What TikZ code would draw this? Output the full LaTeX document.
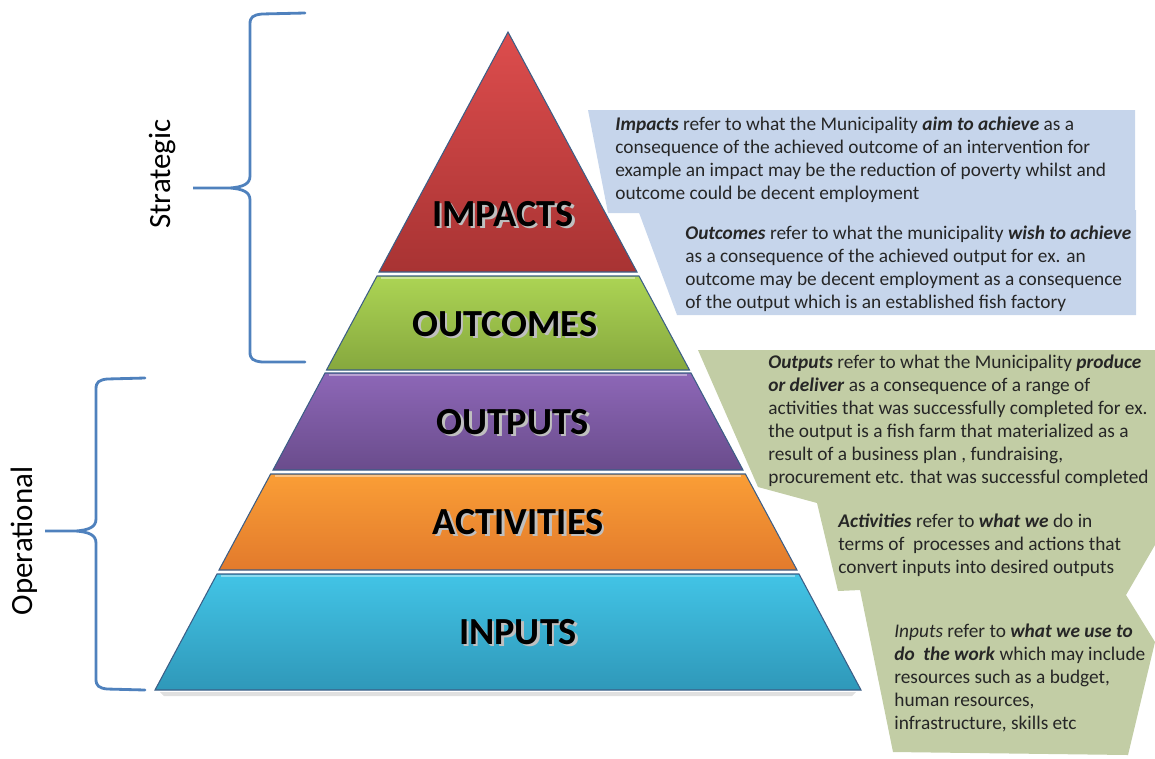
\documentclass[tikz,border=0pt]{standalone}
\usepackage{fontspec}
\setmainfont{Carlito}

\definecolor{bracketblue}{HTML}{4F81BD}
\definecolor{boxblue}{HTML}{C6D5EB}
\definecolor{boxgreen}{HTML}{C2CDA5}
\definecolor{edgeblue}{HTML}{3C5E86}
\definecolor{notetext}{HTML}{262626}

\newcommand{\keyw}[1]{\textbf{\textit{#1}}}

\tikzset{
  layer/.style={draw=edgeblue, line width=0.6pt},
  bevel/.style={draw=white, opacity=0.4, line width=1.2pt},
  lvl/.style={font=\fontsize{21.8}{25}\selectfont\bfseries, text=black, inner sep=0pt},
  lvlshadow/.style={lvl, text=black!25},
  note/.style={font=\fontsize{11}{13.09}\selectfont, text=notetext, align=left,
    anchor=north west, inner sep=0pt},
  bracket/.style={draw=bracketblue, line width=1.6pt, line cap=round},
  side/.style={font=\fontsize{17.6}{20}\selectfont, rotate=90, inner sep=0pt}
}

\begin{document}
\begin{tikzpicture}[x=0.02cm,y=-0.02cm]

\useasboundingbox (0,0) rectangle (1155,758);

\fill[boxblue] (588,110) -- (1135,110) -- (1135,213) -- (608,213) -- cycle;
\fill[boxblue] (638,210) -- (1136,210) -- (1136,315) -- (677,315) -- cycle;

\fill[boxgreen] (698,350) -- (1155,350) -- (1155,545) -- (1126,595) -- (1155,642)
  -- (1128,755) -- (893,752) -- (860,590) -- (838,591) -- (817,503) -- (758,487) -- cycle;

\fill[black!12] (160,692) -- (856,692) -- (852,696) -- (164,696) -- cycle;

\shade[layer, top color={rgb,255:red,221;green,77;blue,77}, bottom color={rgb,255:red,168;green,51;blue,51}]
  (508,32) -- (637,272) -- (379,272) -- cycle;
\shade[layer, top color={rgb,255:red,172;green,212;blue,84}, bottom color={rgb,255:red,134;green,168;blue,62}]
  (377,276) -- (639,276) -- (689.5,370) -- (326.5,370) -- cycle;
\shade[layer, top color={rgb,255:red,141;green,103;blue,183}, bottom color={rgb,255:red,106;green,76;blue,140}]
  (325,373) -- (691,373) -- (743,470) -- (273,470) -- cycle;
\shade[layer, top color={rgb,255:red,250;green,158;blue,54}, bottom color={rgb,255:red,226;green,122;blue,44}]
  (270.6,474) -- (745.4,474) -- (797,570) -- (219,570) -- cycle;
\shade[layer, top color={rgb,255:red,66;green,196;blue,230}, bottom color={rgb,255:red,47;green,152;blue,185}]
  (217,574) -- (799,574) -- (861,690) -- (155,690) -- cycle;

\draw[bevel] (381,278) -- (635,278);
\draw[bevel] (329,375) -- (687,375);
\draw[bevel] (275,476) -- (741,476);
\draw[bevel] (221,576) -- (795,576);

\node[lvlshadow] at (505.5,216.5) {IMPACTS};
\node[lvl] (impacts) at (503,214) {IMPACTS};
\node[lvlshadow] at (507.5,326.5) {OUTCOMES};
\node[lvl] (outcomes) at (505,324) {OUTCOMES};
\node[lvlshadow] at (515.5,424.5) {OUTPUTS};
\node[lvl] (outputs) at (513,422) {OUTPUTS};
\node[lvlshadow] at (520.5,524.5) {ACTIVITIES};
\node[lvl] (activities) at (518,522) {ACTIVITIES};
\node[lvlshadow] at (520.5,634.5) {INPUTS};
\node[lvl] (inputs) at (518,632) {INPUTS};

\node[note] (impactnote) at (615,117) {\keyw{Impacts} refer to what the Municipality \keyw{aim to achieve} as a\\
consequence of the achieved outcome of an intervention for\\
example an impact may be the reduction of poverty whilst and\\
outcome could be decent employment};

\node[note] (outcomenote) at (685,226) {\keyw{Outcomes} refer to what the municipality \keyw{wish to achieve}\\
as a consequence of the achieved output for ex. an\\
outcome may be decent employment as a consequence\\
of the output which is an established fish factory};

\node[note] (outputnote) at (768,355) {\keyw{Outputs} refer to what the Municipality \keyw{produce}\\
\keyw{or deliver} as a consequence of a range of\\
activities that was successfully completed for ex.\\
the output is a fish farm that materialized as a\\
result of a business plan , fundraising,\\
procurement etc. that was successful completed};

\node[note] (activitynote) at (838,514) {\keyw{Activities} refer to \keyw{what we} do in\\
terms of \ processes and actions that\\
convert inputs into desired outputs};

\node[note] (inputnote) at (894,624) {\textit{Inputs} refer to \keyw{what we use to}\\
\keyw{do \ the work} which may include\\
resources such as a budget,\\
human resources,\\
infrastructure, skills etc};

\draw[bracket] (305,13) -- (262,14) .. controls (253,15) and (250,17) .. (250,24) -- (250,176)
  .. controls (250,184) and (243,187) .. (230,188) -- (193,188) -- (230,188)
  .. controls (243,189) and (250,192) .. (250,200) -- (250,352)
  .. controls (250,359) and (253,361) .. (262,362) -- (305,362);
\draw[bracket] (145,378) -- (107,379) .. controls (99,380) and (96,382) .. (96,389) -- (96,519)
  .. controls (96,527) and (89,530) .. (76,531) -- (45,531) -- (76,531)
  .. controls (89,532) and (96,535) .. (96,543) -- (96,679)
  .. controls (96,686) and (99,688) .. (107,689) -- (145,690);

\node[side] (strategic) at (163,174) {Strategic};
\node[side] (operational) at (24,541) {Operational};

\end{tikzpicture}
\end{document}
